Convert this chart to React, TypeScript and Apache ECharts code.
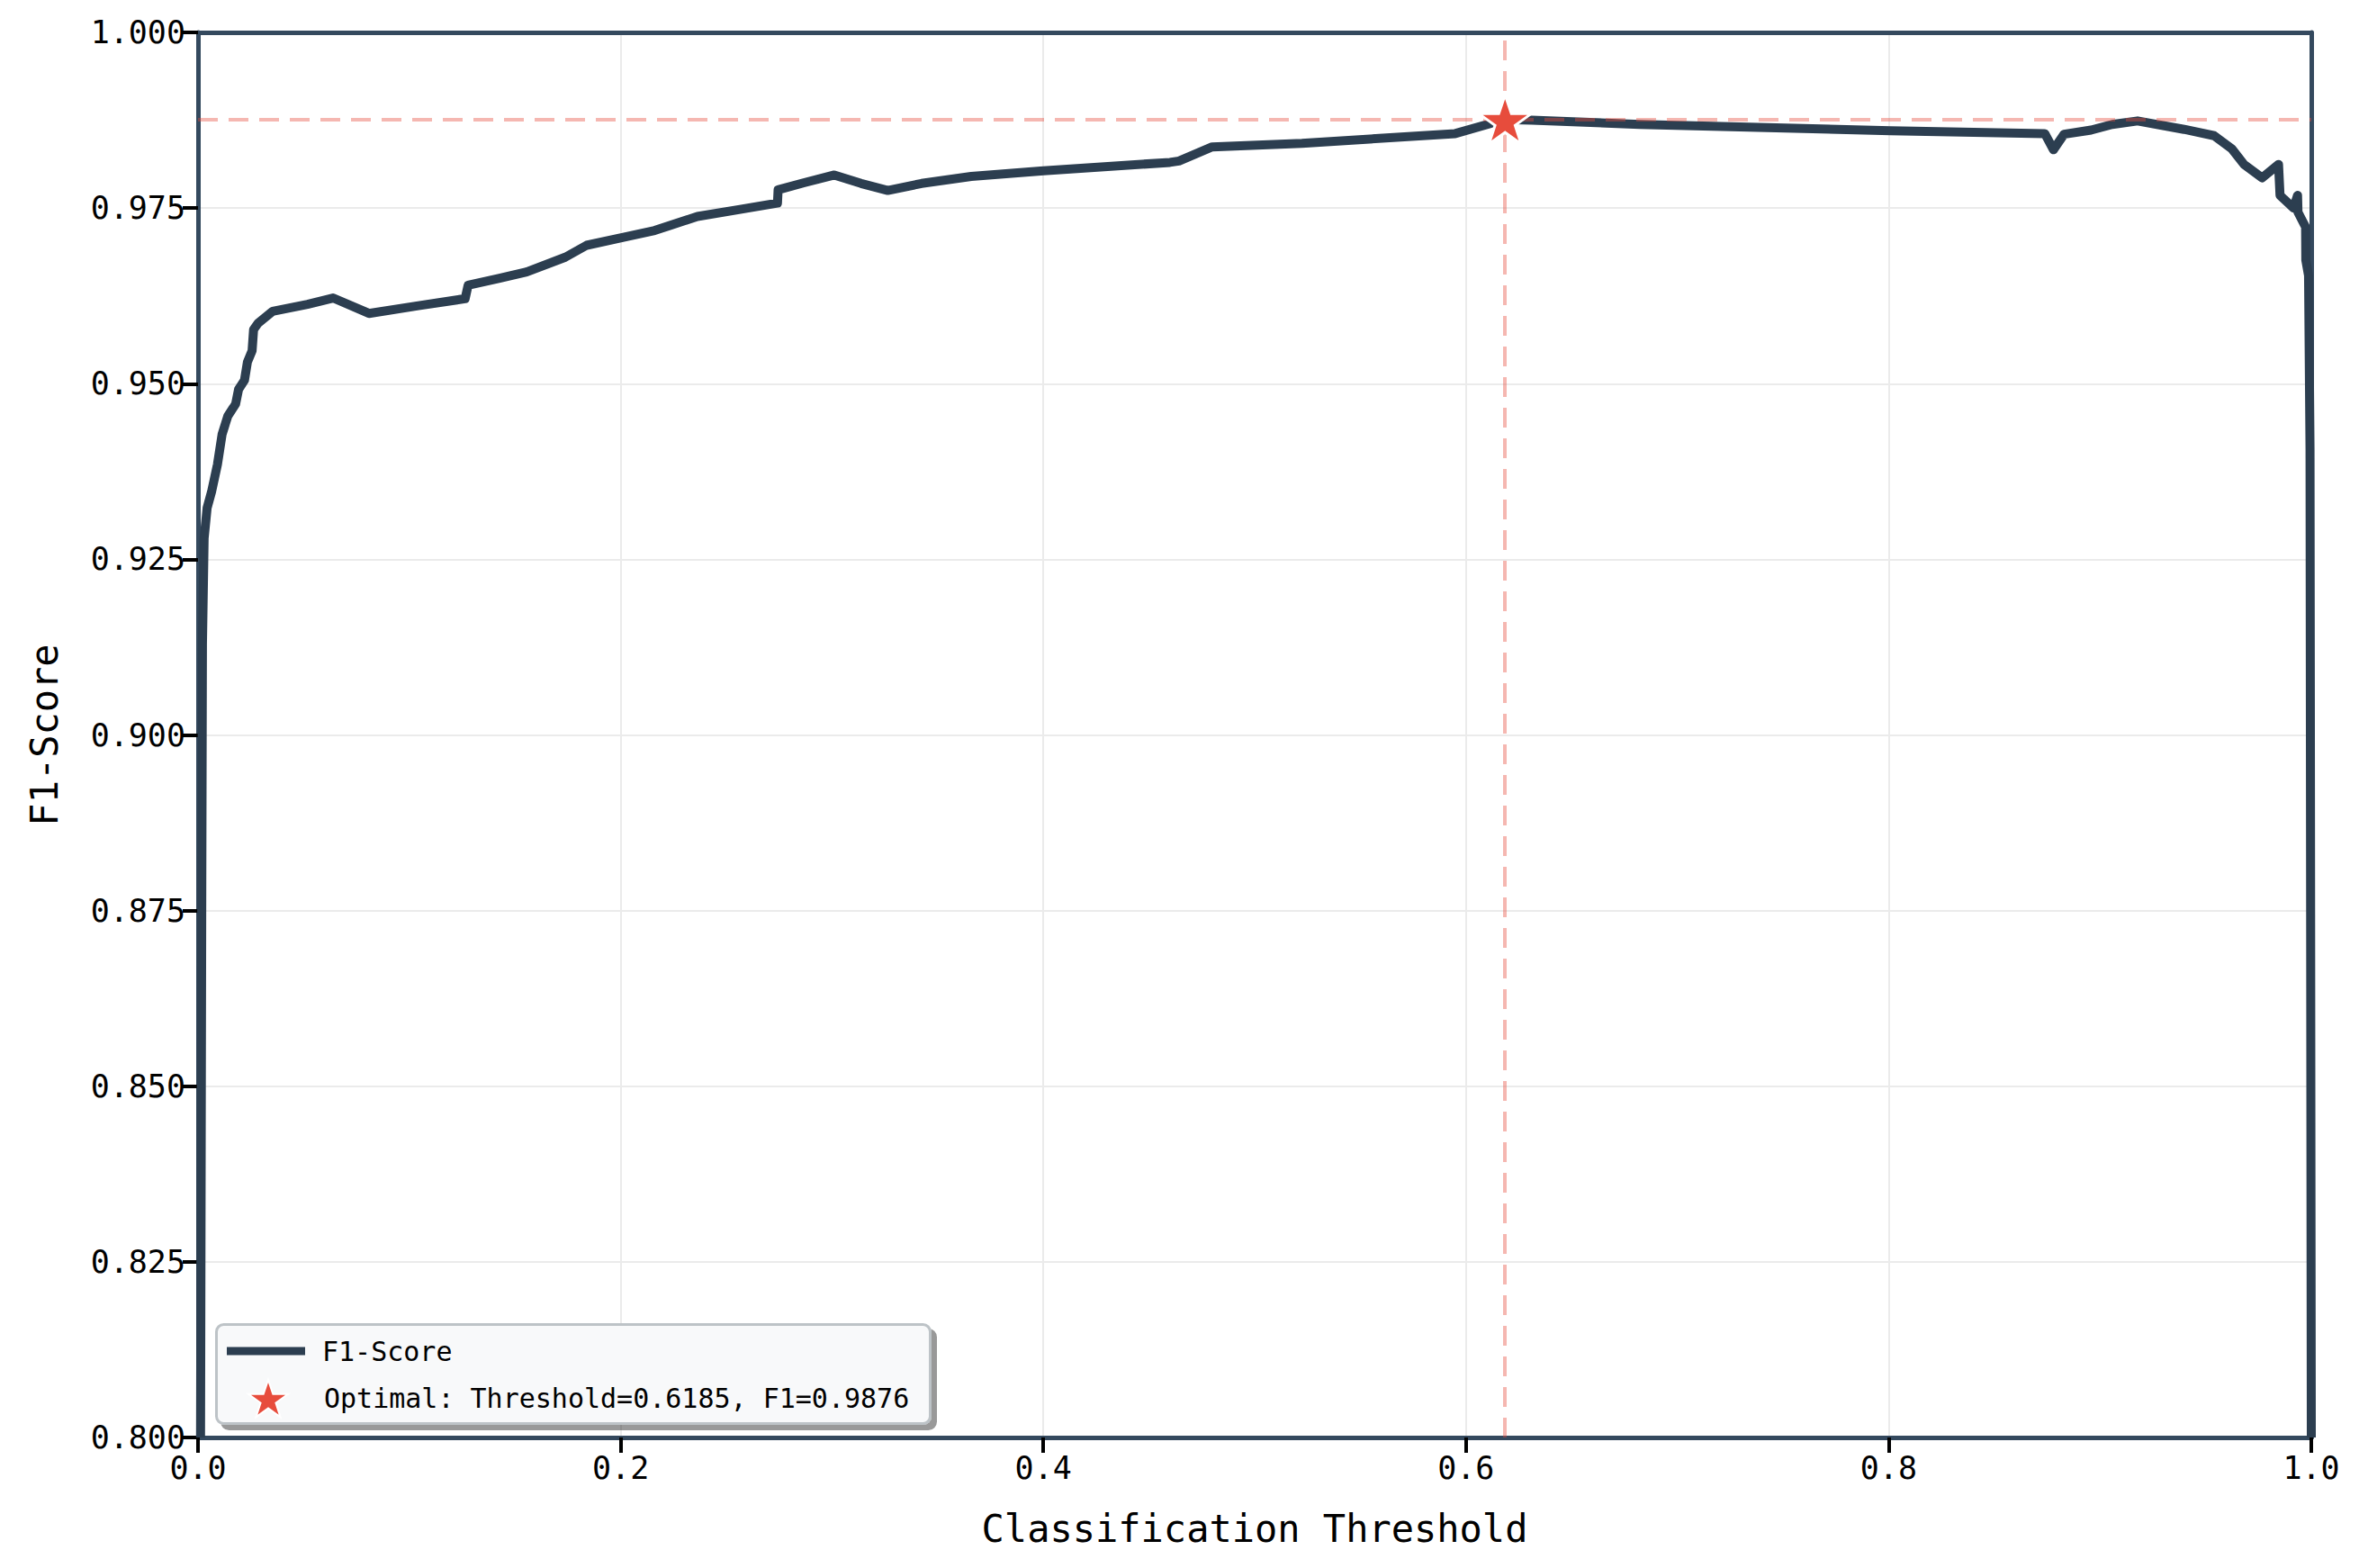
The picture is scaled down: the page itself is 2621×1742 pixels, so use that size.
import React, { useEffect, useRef } from 'react';
import * as echarts from 'echarts';

const thresholds = [
  0.0012, 0.0018, 0.0021, 0.0029, 0.0043, 0.0064, 0.0092, 0.0114, 0.0141, 0.0178,
  0.0192, 0.0220, 0.0234, 0.0256, 0.0263, 0.0284, 0.0353, 0.0518, 0.0639, 0.0809,
  0.1043, 0.1264, 0.1278, 0.1427, 0.1555, 0.1738, 0.1839, 0.2023, 0.2161, 0.2363,
  0.2565, 0.2742, 0.2745, 0.2868, 0.3011, 0.3138, 0.3264, 0.3424, 0.3659, 0.4001,
  0.4599, 0.4642, 0.4799, 0.5224, 0.5949, 0.6112, 0.6185, 0.6311, 0.6822, 0.8009,
  0.8739, 0.8780, 0.8830, 0.8958, 0.9058, 0.9178, 0.9398, 0.9540, 0.9625, 0.9682,
  0.9767, 0.9845, 0.9852, 0.9916, 0.9935, 0.9937, 0.9973, 0.9974, 0.9987, 0.9994,
  1.0,
];

const f1Scores = [
  0.800, 0.880, 0.913, 0.928, 0.9323, 0.9346, 0.9385, 0.9428, 0.9454, 0.9471,
  0.9492, 0.9505, 0.9531, 0.9547, 0.9577, 0.9586, 0.9603, 0.9613, 0.9622, 0.9600,
  0.9611, 0.9621, 0.9640, 0.9650, 0.9659, 0.9680, 0.9697, 0.9709, 0.9718, 0.9738,
  0.9748, 0.9757, 0.9776, 0.9786, 0.9797, 0.9785, 0.9775, 0.9785, 0.9795, 0.9803,
  0.9815, 0.9817, 0.9837, 0.9842, 0.9856, 0.9870, 0.9876, 0.9875, 0.9869, 0.9860,
  0.9856, 0.9833, 0.9855, 0.9861, 0.9869, 0.9874, 0.9862, 0.9853, 0.9834, 0.9812,
  0.9793, 0.9812, 0.9768, 0.9750, 0.9768, 0.9744, 0.9723, 0.9676, 0.9654, 0.9406,
  0.800,
];

const optimalThreshold = 0.6185;
const optimalF1 = 0.9876;

const lineName = 'F1-Score';
const optimalName = `Optimal: Threshold=${optimalThreshold.toFixed(4)}, F1=${optimalF1.toFixed(4)}`;

const STAR =
  'path://M50,0 L61.8,35.1 L98.9,35.1 L68.8,56.8 L80.2,91.9 L50,70.2 L19.8,91.9 L31.2,56.8 L1.1,35.1 L38.2,35.1 Z';

const FONT = "'DejaVu Sans Mono', 'Liberation Mono', monospace";
const FRAME = '#34495e';

export default function App() {
  const ref = useRef<HTMLDivElement>(null);

  useEffect(() => {
    if (!ref.current) return;
    const chart = echarts.init(ref.current, undefined, { renderer: 'svg' });
    const lineData = thresholds.map((t, i) => [t, f1Scores[i]]);

    const frameAxis = {
      type: 'value',
      axisLine: { show: true, onZero: false, lineStyle: { color: FRAME, width: 5 } },
      axisTick: { show: false },
      axisLabel: { show: false },
      splitLine: { show: false },
    };

    chart.setOption({
      animation: false,
      backgroundColor: '#ffffff',
      textStyle: { fontFamily: FONT },
      grid: { left: 220, right: 53, top: 36, bottom: 145 },
      xAxis: [
        {
          type: 'value',
          position: 'bottom',
          min: 0,
          max: 1,
          interval: 0.2,
          name: 'Classification Threshold',
          nameLocation: 'middle',
          nameGap: 80,
          nameTextStyle: { fontFamily: FONT, fontSize: 42, color: '#000' },
          axisLine: { show: true, onZero: false, lineStyle: { color: FRAME, width: 5 } },
          axisTick: { show: true, length: 17, lineStyle: { color: '#000', width: 4 } },
          axisLabel: {
            fontFamily: FONT,
            fontSize: 35,
            color: '#000',
            margin: 16,
            formatter: (v: number) => v.toFixed(1),
          },
          splitLine: { show: true, showMinLine: false, showMaxLine: false, lineStyle: { color: '#ebebeb', width: 2 } },
        },
        { ...frameAxis, position: 'top', min: 0, max: 1 },
      ],
      yAxis: [
        {
          type: 'value',
          position: 'left',
          min: 0.8,
          max: 1.0,
          interval: 0.025,
          name: 'F1-Score',
          nameLocation: 'middle',
          nameGap: 150,
          nameTextStyle: { fontFamily: FONT, fontSize: 42, color: '#000' },
          axisLine: { show: true, onZero: false, lineStyle: { color: FRAME, width: 5 } },
          axisTick: { show: true, length: 17, lineStyle: { color: '#000', width: 4 } },
          axisLabel: {
            fontFamily: FONT,
            fontSize: 35,
            color: '#000',
            margin: 14,
            formatter: (v: number) => v.toFixed(3),
          },
          splitLine: { show: true, showMinLine: false, showMaxLine: false, lineStyle: { color: '#ebebeb', width: 2 } },
        },
        { ...frameAxis, position: 'right', min: 0.8, max: 1.0 },
      ],
      graphic: [
        {
          type: 'rect',
          left: 239,
          top: 1470,
          z: 50,
          shape: { width: 793, height: 110, r: 8 },
          style: {
            fill: '#f8f9fa',
            stroke: '#bdc3c7',
            lineWidth: 3,
            shadowColor: 'rgba(0,0,0,0.4)',
            shadowOffsetX: 6,
            shadowOffsetY: 6,
            shadowBlur: 0,
          },
        },
      ],
      legend: [
        {
          data: [{ name: lineName, icon: 'rect' }],
          left: 247,
          top: 1481,
          orient: 'vertical',
          selectedMode: false,
          itemWidth: 87,
          itemHeight: 9,
          z: 60,
          textStyle: { fontFamily: FONT, fontSize: 30, color: '#000', padding: [0, 0, 0, 14] },
        },
        {
          data: [{ name: optimalName }],
          left: 270,
          top: 1527,
          orient: 'vertical',
          selectedMode: false,
          itemWidth: 44,
          itemHeight: 44,
          z: 60,
          textStyle: { fontFamily: FONT, fontSize: 30, color: '#000', padding: [0, 0, 0, 35] },
        },
      ],
      series: [
        {
          name: lineName,
          type: 'line',
          data: lineData,
          showSymbol: false,
          symbol: 'none',
          z: 3,
          clip: true,
          lineStyle: { color: '#2c3e50', width: 10, join: 'round' },
          itemStyle: { color: '#2c3e50' },
          markLine: {
            silent: true,
            symbol: 'none',
            precision: 4,
            label: { show: false },
            lineStyle: { color: 'rgba(231,76,60,0.4)', width: 4, type: [22, 12] },
            data: [{ xAxis: optimalThreshold }, { yAxis: optimalF1 }],
          },
        },
        {
          name: optimalName,
          type: 'scatter',
          data: [[optimalThreshold, optimalF1]],
          symbol: STAR,
          symbolSize: 58,
          symbolKeepAspect: true,
          z: 6,
          itemStyle: { color: '#e74c3c', borderColor: '#ffffff', borderWidth: 3, opacity: 1 },
        },
      ],
    });

    return () => chart.dispose();
  }, []);

  return (
    <div
      ref={ref}
      style={{ position: 'fixed', left: 0, top: 0, width: 2621, height: 1742, background: '#fff' }}
    />
  );
}
